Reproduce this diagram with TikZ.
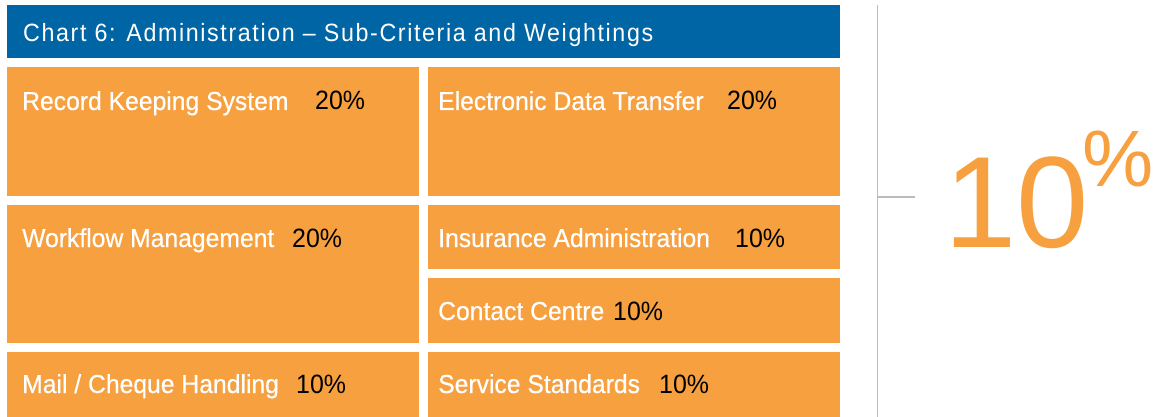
\documentclass[tikz,border=0pt]{standalone}
\usepackage{fontspec}
\setmainfont{Liberation Sans}
\newfontfamily\lbl[FakeStretch=0.95,FakeBold=0.5]{Liberation Sans}
\newfontfamily\pctf[FakeStretch=0.94]{Liberation Sans}
\newfontfamily\hdr[FakeStretch=0.93,LetterSpace=6.5]{Liberation Sans}
\definecolor{hblue}{RGB}{0,101,164}
\definecolor{org}{RGB}{247,160,64}
\definecolor{gline}{RGB}{187,187,187}
\begin{document}
\begin{tikzpicture}[x=1pt,y=-1pt,
  box/.style={fill=org,draw=none,anchor=north west,inner sep=0pt,outer sep=0pt},
  lbltxt/.style={anchor=base west,inner sep=0pt,text=white,font=\lbl\fontsize{26}{30}\selectfont},
  pct/.style={anchor=base west,inner sep=0pt,text=black,font=\pctf\fontsize{26.5}{30}\selectfont}]
\useasboundingbox (0,0) rectangle (1155,417);
% header
\node[box,fill=hblue,minimum width=833pt,minimum height=53pt] (head) at (7,5) {};
\node[anchor=base west,inner sep=0pt,text=white,font=\hdr\fontsize{25}{30}\selectfont] (htxt) at (23,42) {Chart 6: Administration – Sub-Criteria and Weightings};
% boxes
\node[box,minimum width=412pt,minimum height=129pt] (b1) at (7,67) {};
\node[box,minimum width=412pt,minimum height=129pt] (b2) at (428,67) {};
\node[box,minimum width=412pt,minimum height=138pt] (b3) at (7,205) {};
\node[box,minimum width=412pt,minimum height=64pt] (b4) at (428,205) {};
\node[box,minimum width=412pt,minimum height=65pt] (b5) at (428,278) {};
\node[box,minimum width=412pt,minimum height=65pt] (b6) at (7,352) {};
\node[box,minimum width=412pt,minimum height=65pt] (b7) at (428,352) {};
% labels
\node[lbltxt] (t1) at (22,110) {Record Keeping System};
\node[pct] (p1) at (315,110) {20\%};
\node[lbltxt] (t2) at (438,110) {Electronic Data Transfer};
\node[pct] (p2) at (727,110) {20\%};
\node[lbltxt] (t3) at (22,247) {Workflow Management};
\node[pct] (p3) at (292,247) {20\%};
\node[lbltxt] (t4) at (438,247) {Insurance Administration};
\node[pct] (p4) at (735,247) {10\%};
\node[lbltxt] (t5) at (438,320) {Contact Centre};
\node[pct] (p5) at (613,320) {10\%};
\node[lbltxt] (t6) at (22,393) {Mail / Cheque Handling};
\node[pct] (p6) at (296,393) {10\%};
\node[lbltxt] (t7) at (438,393) {Service Standards};
\node[pct] (p7) at (659,393) {10\%};
% side line
\coordinate (vtop) at (877.5,5);
\coordinate (vbot) at (877.5,417);
\coordinate (hl) at (877.5,197);
\coordinate (hr) at (915,197);
\draw[gline,line width=1.5pt] (vtop) -- (vbot);
\draw[gline,line width=1.5pt] (hl) -- (hr);
% big number
\node[anchor=base west,inner sep=0pt,text=org,font=\fontsize{130}{130}\selectfont] (big) at (944,247) {10};
\node[anchor=base west,inner sep=0pt,text=org,font=\fontsize{80}{80}\selectfont] (bigp) at (1082,186) {\%};
\end{tikzpicture}
\end{document}
